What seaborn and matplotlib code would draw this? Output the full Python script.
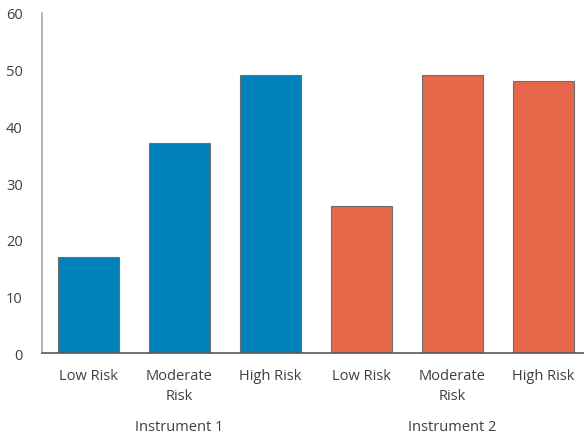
import matplotlib
matplotlib.use("Agg")
import matplotlib.pyplot as plt
import seaborn as sns
import pandas as pd

# data
instruments = ["Instrument 1", "Instrument 1", "Instrument 1",
               "Instrument 2", "Instrument 2", "Instrument 2"]
risk_labels = ["Low Risk", "Moderate\nRisk", "High Risk",
               "Low Risk", "Moderate\nRisk", "High Risk"]
values = [17, 37, 49, 26, 49, 48]
group_names = ["Instrument 1", "Instrument 2"]
colors = {"Instrument 1": "#0082BA", "Instrument 2": "#E5674A"}

sns.set_style("white")
plt.rcParams['font.family'] = ['Open Sans', 'DejaVu Sans']

df = pd.DataFrame({
    "slot": [f"{i}" for i in range(len(values))],
    "instrument": instruments,
    "value": values,
})

fig = plt.figure(figsize=(5.84, 4.35), dpi=100)
ax = fig.add_axes([0.072, 0.186, 0.928, 0.782])

sns.barplot(data=df, x="slot", y="value", hue="instrument", palette=colors,
            dodge=False, width=0.67, saturation=1, edgecolor="#6e6e6e",
            linewidth=0.8, legend=False, ax=ax)

ax.set_ylim(0, 60)
ax.set_yticks(range(0, 61, 10))
ax.set_xlim(-0.51, 5.45)
ax.set_xticks(range(len(values)))
ax.set_xticklabels(risk_labels, linespacing=1.45)
ax.set_xlabel("")
ax.set_ylabel("")
ax.tick_params(axis="both", length=0, labelsize=10.5, colors="#3f3f3f")
ax.tick_params(axis="x", pad=11)
ax.tick_params(axis="y", pad=14)

sns.despine(ax=ax)
ax.spines["left"].set_color("#a6a6a6")
ax.spines["left"].set_linewidth(1.2)
ax.spines["bottom"].set_color("#595959")
ax.spines["bottom"].set_linewidth(1.2)

# group labels under each set of three bars
for g, name in enumerate(group_names):
    ax.text(1 + 3 * g, -0.215, name, transform=ax.get_xaxis_transform(),
            ha="center", va="center", fontsize=10.5, color="#3f3f3f")

fig.savefig("out.png", dpi=100)
